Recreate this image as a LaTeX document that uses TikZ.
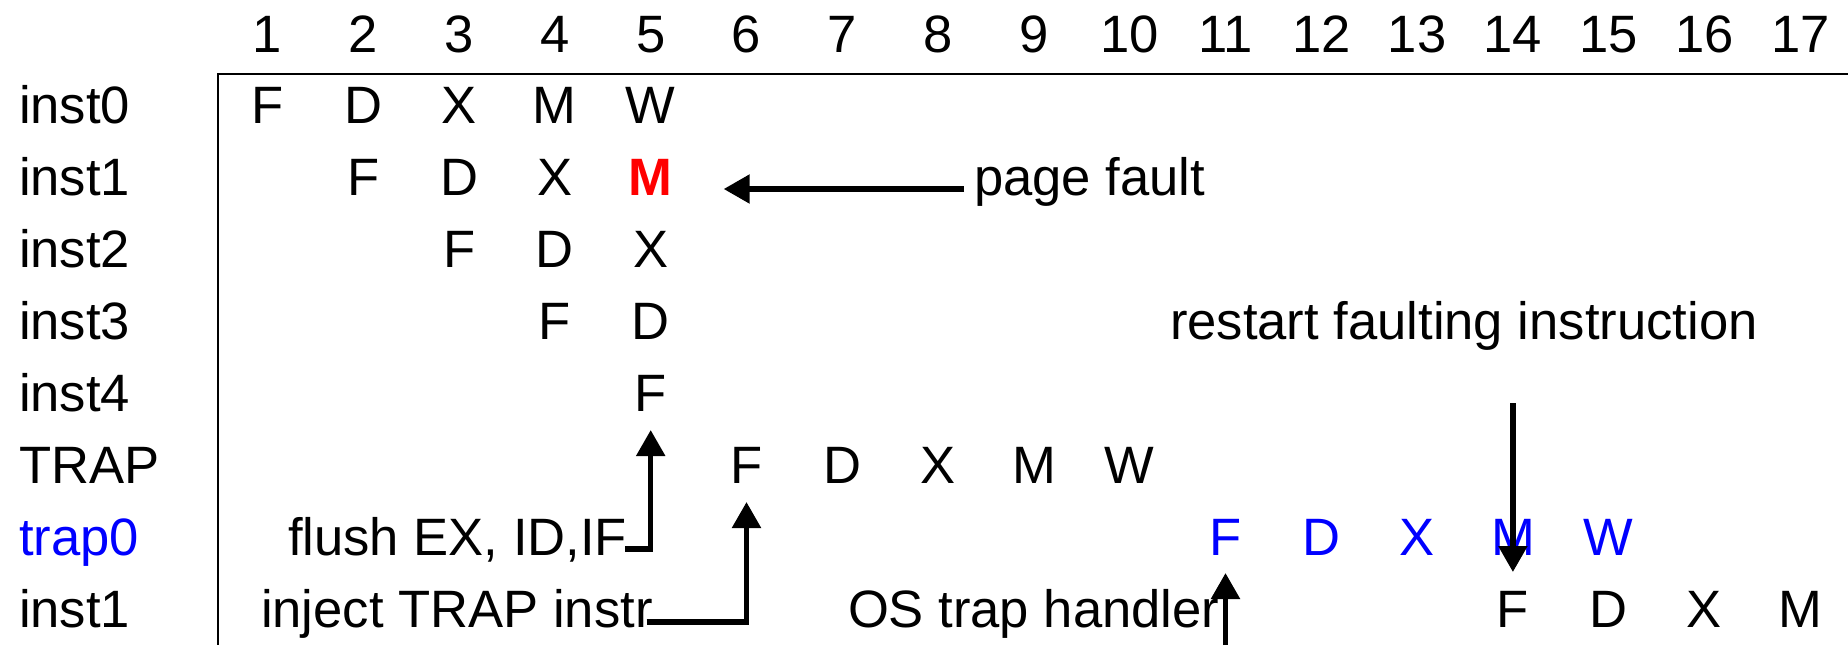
\documentclass[tikz,border=0pt]{standalone}
\usepackage{fontspec}
\setmainfont{Liberation Sans}
\usetikzlibrary{arrows.meta,calc}
\definecolor{fred}{RGB}{255,0,0}
\definecolor{tblue}{RGB}{0,0,255}
\begin{document}
\begin{tikzpicture}[x=0.5pt,y=-0.5pt,
  every node/.style={inner sep=0pt, outer sep=0pt, font=\fontsize{26.3pt}{30pt}\selectfont},
  cell/.style={anchor=base},
  lab/.style={anchor=base west},
  arr/.style={line width=2.7pt, -{Triangle[length=13pt,width=14pt]}},
  frameline/.style={line width=1.1pt}]
\useasboundingbox (0,0) rectangle (1848,645);
% frame
\coordinate (tl) at (218,74);
\coordinate (tr) at (1848,74);
\coordinate (bl) at (218,645);
\draw[frameline] (tr) -- (tl) -- (bl);
% header
\foreach \k in {1,...,17} \node[cell] (h\k) at ({267.5+(\k-1)*95.8},52) {\k};
% row labels
\node[lab] (l0) at (19,123) {inst0};
\node[lab] (l1) at (19,195) {inst1};
\node[lab] (l2) at (19,267) {inst2};
\node[lab] (l3) at (19,339) {inst3};
\node[lab] (l4) at (19,411) {inst4};
\node[lab] (l5) at (19,483) {TRAP};
\node[lab, text=tblue] (l6) at (19,555) {trap0};
\node[lab] (l7) at (19,627) {inst1};
% pipeline cells
\foreach \c/\t in {1/F,2/D,3/X,4/M,5/W} \node[cell] (r0c\c) at ({267.5+(\c-1)*95.8},123) {\t};
\foreach \c/\t in {2/F,3/D,4/X} \node[cell] (r1c\c) at ({267.5+(\c-1)*95.8},195) {\t};
\node[cell, text=fred, font=\fontsize{26.3pt}{30pt}\selectfont\bfseries] (r1c5) at ({267.5+4*95.8},195) {M};
\foreach \c/\t in {3/F,4/D,5/X} \node[cell] (r2c\c) at ({267.5+(\c-1)*95.8},267) {\t};
\foreach \c/\t in {4/F,5/D} \node[cell] (r3c\c) at ({267.5+(\c-1)*95.8},339) {\t};
\node[cell] (r4c5) at ({267.5+4*95.8},411) {F};
\foreach \c/\t in {6/F,7/D,8/X,9/M,10/W} \node[cell] (r5c\c) at ({267.5+(\c-1)*95.8},483) {\t};
\foreach \c/\t in {11/F,12/D,13/X,14/M,15/W} \node[cell, text=tblue] (r6c\c) at ({267.5+(\c-1)*95.8},555) {\t};
\foreach \c/\t in {14/F,15/D,16/X,17/M} \node[cell] (r7c\c) at ({267.5+(\c-1)*95.8},627) {\t};
% annotations
\node[lab] (pf) at (974,195) {page fault};
\node[lab] (rs) at (1170,339) {restart faulting instruction};
\node[lab] (flush) at (288,555) {flush EX, ID,IF};
\node[lab] (inject) at (261,627) {inject TRAP instr};
\node[lab] (os) at (848,627) {OS trap handler};
% connectors
\coordinate (rsfrom) at ($(r6c14.base)+(0,-152)$);
\coordinate (osfrom) at ($(r6c11.base)+(0,90)$);
\draw[arr] ($(pf.base west)+(-10,-6)$) -- ($(r1c5.base)+(73,-6)$);
\draw[arr] ($(flush.base east)+(-2,-6)$) -| ($(r4c5.base)+(0,19)$);
\draw[arr] ($(inject.base east)+(-6,-5)$) -| ($(r5c6.base)+(0,19)$);
\draw[arr] (osfrom) -- ($(r6c11.base)+(0,18)$);
\draw[arr] (rsfrom) -- ($(r6c14.base)+(0,17)$);
\end{tikzpicture}
\end{document}
